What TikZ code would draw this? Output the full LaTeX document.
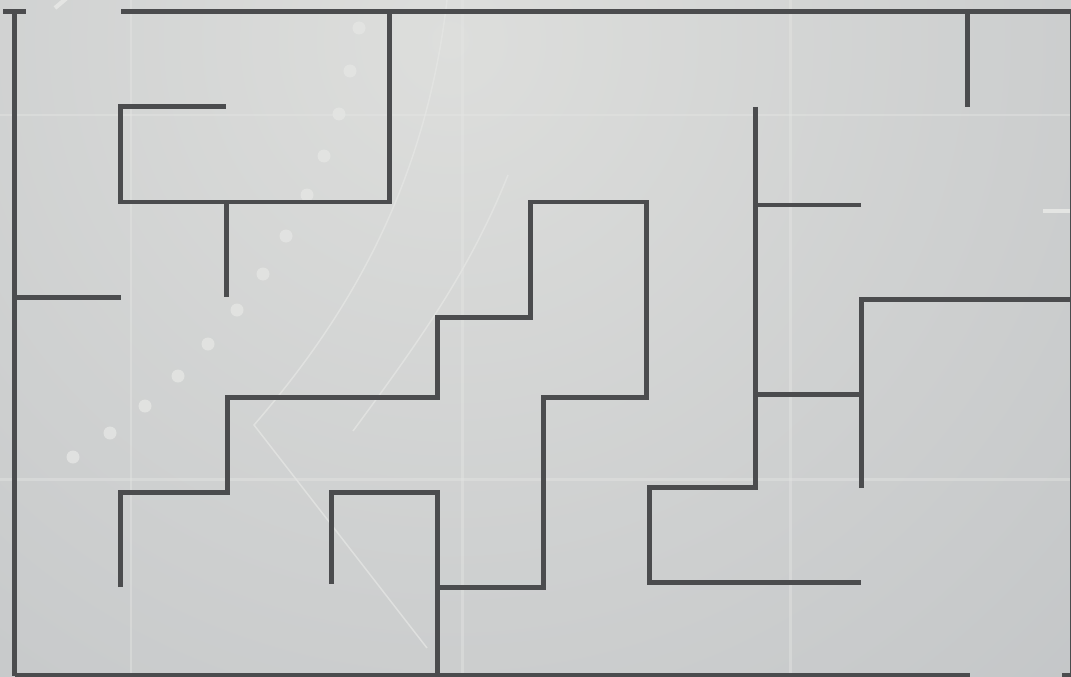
\documentclass[tikz,border=0pt]{standalone}
\usepackage{tikz}

\definecolor{wallgray}{HTML}{4B4C4E}
\definecolor{bglight}{HTML}{DDDEDC}
\definecolor{bgdark}{HTML}{B9BCBF}
\definecolor{faint}{HTML}{E4E5E3}

\begin{document}
\begin{tikzpicture}[x=0.01cm, y=-0.01cm,
    wall/.style={draw=wallgray, line width=1.42pt, line join=miter},
    guide/.style={draw=faint, line width=0.85pt, opacity=0.45},
    trace/.style={draw=faint, line width=0.42pt, opacity=0.8},
    crumb/.style={fill=faint, opacity=0.85}]
  \useasboundingbox (0,0) rectangle (1071,676);
  % background
  \begin{scope}
    \clip (0,0) rectangle (1071,676);
    \fill[bgdark] (0,0) rectangle (1071,676);
    \shade[inner color=bglight, outer color=bgdark] (450,40) circle (1300);
    \draw[guide] (131,0) -- (131,676);
    \draw[guide] (462,0) -- (462,676);
    \draw[guide] (790,0) -- (790,676);
    \draw[guide] (0,115) -- (1071,115);
    \draw[guide] (0,479) -- (1071,479);
    \draw[trace] (447,0) .. controls (425,190) and (345,320) .. (254,425) -- (427,648);
    \draw[trace] (508,175) .. controls (470,270) and (420,340) .. (353,431);
    \draw[draw=faint, line width=1.2pt] (55,8) -- (68,-3);
    \draw[draw=faint, line width=1.4pt] (1043,211) -- (1071,211);
    \foreach \px/\py in {359/28, 350/71, 339/114, 324/156, 307/195, 286/236,
                         263/274, 237/310, 208/344, 178/376, 145/406, 110/433, 73/457}
      \fill[crumb] (\px,\py) circle (6.5);
  \end{scope}
  % outer walls
  \draw[wall] (3,11.5) -- (26,11.5);
  \draw[wall] (121,11.5) -- (1071,11.5);
  \draw[wall] (14.5,11.5) -- (14.5,676);
  \draw[wall] (14.5,675) -- (970,675);
  \draw[wall] (1062,675) -- (1071,675);
  \draw[wall] (1072,11.5) -- (1072,676);
  % left rooms
  \draw[wall] (389,11.5) -- (389,202) -- (120,202) -- (120,106.5) -- (226,106.5);
  \draw[wall] (226,202) -- (226,297);
  \draw[wall] (14.5,297) -- (121,297);
  \draw[wall] (967,11.5) -- (967,107);
  % staircase
  \draw[wall] (120,587) -- (120,492) -- (227,492) -- (227,397.5) -- (437.5,397.5)
    -- (437.5,317.5) -- (530,317.5) -- (530,202) -- (646.5,202) -- (646.5,397)
    -- (543.5,397) -- (543.5,587) -- (437.5,587);
  \draw[wall] (437.5,676) -- (437.5,492) -- (331.7,492) -- (331.7,584);
  % right part
  \draw[wall] (755,107) -- (755,487.5) -- (649,487.5) -- (649,582) -- (861,582);
  \draw[wall] (755,205) -- (861,205);
  \draw[wall] (755,394.5) -- (861,394.5);
  \draw[wall] (861,488) -- (861,299) -- (1071,299);
\end{tikzpicture}
\end{document}
